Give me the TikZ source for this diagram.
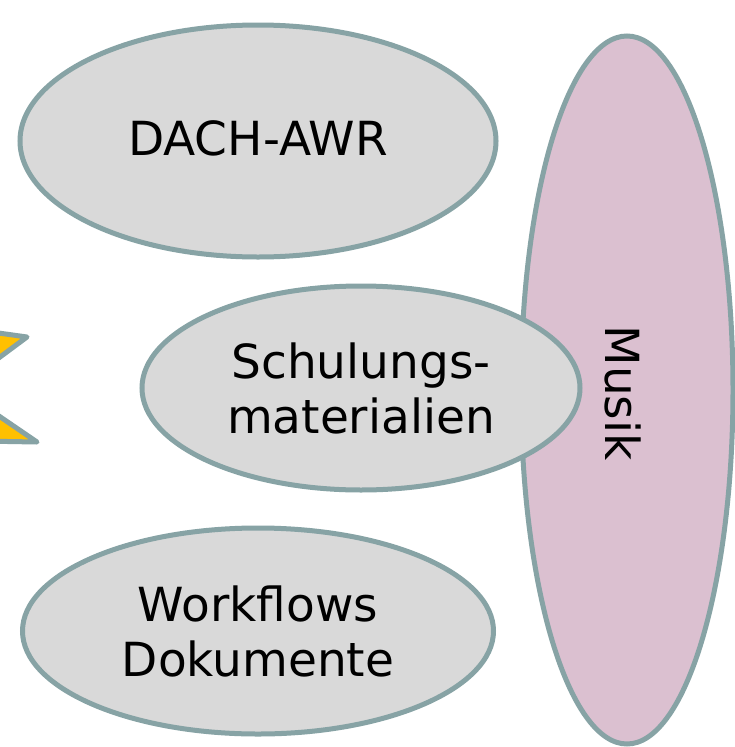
\documentclass[tikz,border=0pt]{standalone}
\usepackage{fontspec}
\setmainfont{DejaVu Sans}
\usetikzlibrary{shapes.geometric}
\definecolor{bordc}{HTML}{87A3A5}
\definecolor{grayfill}{HTML}{D9D9D9}
\definecolor{pinkfill}{HTML}{DBC0D0}
\definecolor{starfill}{HTML}{FFC000}
\tikzset{
  oval/.style={ellipse, draw=bordc, line width=5pt, fill=grayfill, inner sep=0pt,
    align=center, font=\fontsize{47}{55}\selectfont},
}
\begin{document}
\begin{tikzpicture}[x=1pt,y=-1pt]
\useasboundingbox (0,0) rectangle (735,747);
\clip (0,0) rectangle (735,747);
\fill[white] (0,0) rectangle (735,747);
% star (mostly outside)
\draw[bordc, line width=5pt, fill=starfill, line join=round]
  (-80,322) -- (27,337) -- (-4,360) -- (-4,414) -- (37,442) -- (-80,440) -- cycle;
\node[oval, fill=pinkfill, minimum width=212pt, minimum height=708pt] (musik) at (627,390) {};
\node[rotate=-90, font=\fontsize{47}{55}\selectfont] (musiklbl) at (623,393) {Musik};
\node[oval, minimum width=476pt, minimum height=232pt] (dach) at (258,141) {\raisebox{5pt}{DACH-AWR}};
\node[oval, minimum width=438pt, minimum height=204pt] (schul) at (361,388) {Schulungs-\\materialien};
\node[oval, minimum width=471pt, minimum height=206pt] (work) at (258,631) {Workflows\\Dokumente};
\end{tikzpicture}
\end{document}
